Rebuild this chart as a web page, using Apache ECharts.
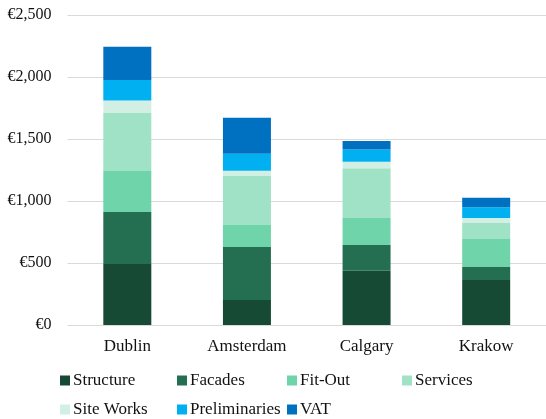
<!DOCTYPE html>
<html>
<head>
<meta charset="utf-8">
<script src="https://cdn.jsdelivr.net/npm/echarts@6/dist/echarts.min.js"></script>
<style>html,body{margin:0;padding:0;background:#fff}#c{width:546px;height:419px}</style>
</head>
<body>
<div id="c"></div>
<script>
var categories = ['Dublin', 'Amsterdam', 'Calgary', 'Krakow'];
var seriesNames = ['Structure', 'Facades', 'Fit-Out', 'Services', 'Site Works', 'Preliminaries', 'VAT'];
var structure = [492, 201, 438, 363];
var facades = [419, 428, 207, 104];
var fitOut = [330, 177, 217, 226];
var services = [468, 395, 403, 129];
var siteWorks = [102, 43, 52, 40];
var preliminaries = [164, 137, 99, 87];
var vat = [268, 290, 67, 77];
var yTicks = [0, 500, 1000, 1500, 2000, 2500];

var values = [structure, facades, fitOut, services, siteWorks, preliminaries, vat];
var colors = ['#174A35', '#246F52', '#6FD4AA', '#A0E2C6', '#D1F0E3', '#00B0F0', '#0070C0'];
var font = '"Liberation Serif", "Times New Roman", serif';

var legendPos = [
  [60, 372], [177, 372], [287, 372], [402, 372],
  [60, 401], [177, 401], [287, 401]
];

var chart = echarts.init(document.getElementById('c'), null, {renderer: 'canvas'});
var legends = seriesNames.map(function (n, i) {
  return {
    data: [n],
    left: legendPos[i][0],
    top: legendPos[i][1],
    itemWidth: 10,
    itemHeight: 10,
    itemGap: 0,
    padding: 0,
    icon: 'rect',
    selectedMode: false,
    textStyle: {fontFamily: font, fontSize: 17, color: '#111', padding: [0, 0, 0, -2]}
  };
});

chart.setOption({
  animation: false,
  legend: legends,
  grid: {left: 67.5, top: 15, width: 483, height: 310, containLabel: false},
  xAxis: {
    type: 'category',
    data: categories,
    axisLine: {show: false},
    axisTick: {show: false},
    axisLabel: {fontFamily: font, fontSize: 17, color: '#111', margin: 13}
  },
  yAxis: {
    type: 'value',
    min: yTicks[0],
    max: yTicks[yTicks.length - 1],
    interval: 500,
    axisLine: {show: false},
    axisTick: {show: false},
    splitLine: {lineStyle: {color: '#D9D9D9', width: 1}},
    axisLabel: {
      fontFamily: font, fontSize: 16, color: '#111', margin: 16,
      formatter: function (v) { return '€' + v.toLocaleString('en-US'); }
    }
  },
  series: seriesNames.map(function (n, i) {
    return {
      name: n,
      type: 'bar',
      stack: 'total',
      barWidth: 48,
      data: values[i],
      itemStyle: {color: colors[i]}
    };
  })
});
</script>
</body>
</html>
